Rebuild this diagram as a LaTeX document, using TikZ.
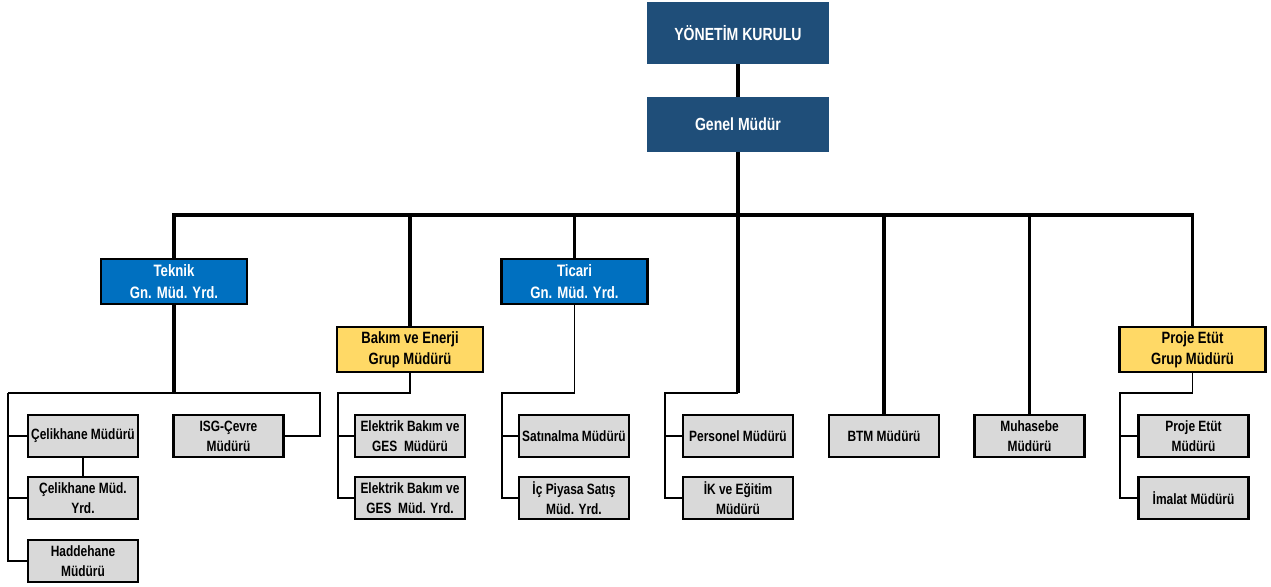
\documentclass[tikz,border=0pt]{standalone}
\usepackage{fontspec}
\setmainfont[FakeStretch=0.8]{Liberation Sans}
\usetikzlibrary{positioning,calc}
\definecolor{Navy}{RGB}{31,78,121}
\definecolor{MidBlue}{RGB}{0,112,192}
\definecolor{Gold}{RGB}{255,217,102}
\definecolor{Grey}{RGB}{217,217,217}

\begin{document}
\begin{tikzpicture}[x=0.02cm,y=0.02cm,
  topbox/.style={fill=Navy,text=white,minimum width=3.64cm,align=center,font=\fontsize{10}{12}\selectfont\bfseries},
  gmybox/.style={draw,line width=1.2pt,fill=MidBlue,text=white,minimum width=2.92cm,minimum height=0.9cm,inner sep=1pt,align=center,font=\fontsize{9.4}{12.4}\selectfont\bfseries},
  grpbox/.style={draw,line width=1.2pt,fill=Gold,minimum width=2.92cm,minimum height=0.9cm,inner sep=1pt,align=center,font=\fontsize{9.3}{12}\selectfont\bfseries},
  unitbox/.style={draw,line width=1.2pt,fill=Grey,minimum width=2.2cm,minimum height=0.84cm,inner sep=1pt,align=center,font=\fontsize{8.5}{11.3}\selectfont\bfseries},
  heavy/.style={line width=2pt},
  light/.style={line width=0.6pt}]
\useasboundingbox (0,0) rectangle (1271,-587);
\node[topbox,minimum height=1.24cm] (yk) at (738,-33) {YÖNETİM KURULU};
\node[topbox,minimum height=1.1cm] (gm) at (738,-124.5) {Genel Müdür};
\node[gmybox] (teknik) at (174,-281.5) {Teknik\\Gn. Müd. Yrd.};
\node[gmybox] (ticari) at (574.5,-281.5) {Ticari\\Gn. Müd. Yrd.};
\node[grpbox] (bakim) at (410,-349.5) {Bakım ve Enerji\\Grup Müdürü};
\node[grpbox] (proje) at (1192.5,-349.5) {Proje Etüt\\Grup Müdürü};
\node[unitbox] (celik) at (83,-436) {Çelikhane Müdürü};
\node[unitbox] (celikyrd) at (83,-498) {Çelikhane Müd.\\Yrd.};
\node[unitbox] (hadde) at (83,-561) {Haddehane\\Müdürü};
\node[unitbox] (isg) at (228.5,-436) {ISG-Çevre\\Müdürü};
\node[unitbox] (elk) at (410,-436) {Elektrik Bakım ve\\GES~~Müdürü};
\node[unitbox] (elkyrd) at (410,-498) {Elektrik Bakım ve\\GES~~Müd. Yrd.};
\node[unitbox] (satin) at (574,-436) {Satınalma Müdürü};
\node[unitbox] (icp) at (574,-498) {İç Piyasa Satış\\Müd. Yrd.};
\node[unitbox] (pers) at (738,-436) {Personel Müdürü};
\node[unitbox] (ik) at (738,-498) {İK ve Eğitim\\Müdürü};
\node[unitbox] (btm) at (884,-436) {BTM Müdürü};
\node[unitbox] (muh) at (1029.5,-436) {Muhasebe\\Müdürü};
\node[unitbox] (pem) at (1193.5,-436) {Proje Etüt\\Müdürü};
\node[unitbox] (imalat) at (1193.5,-498) {İmalat Müdürü};
\coordinate (bus) at (738,-215);
\coordinate (tl) at (8,-393);
\coordinate (tr) at (320,-393);
\coordinate (bk) at (338,-393);
\coordinate (tc) at (502,-393);
\coordinate (pk) at (665,-393);
\coordinate (pj) at (1120,-393);
\draw[heavy] (yk.south) -- (gm.north);
\draw[heavy] (gm.south) -- (gm.south |- pk);
\draw[heavy] (teknik.north) |- (bus) -| (proje.north);
\draw[heavy] (bakim.north |- bus) -- (bakim.north);
\draw[heavy] (ticari.north |- bus) -- (ticari.north);
\draw[heavy] (btm.north |- bus) -- (btm.north);
\draw[heavy] (muh.north |- bus) -- (muh.north);
\draw[heavy] (teknik.south) -- (teknik.south |- tl);
\draw[light] (tl) -- (tr) |- (isg.east);
\draw[light] (tl) |- (hadde.west);
\draw[light] (tl |- celik.west) -- (celik.west);
\draw[light] (tl |- celikyrd.west) -- (celikyrd.west);
\draw[light] (celik.south) -- (celikyrd.north);
\draw[light] (bakim.south) |- (bk) |- (elkyrd.west);
\draw[light] (bk |- elk.west) -- (elk.west);
\draw[light] (ticari.south) |- (tc) |- (icp.west);
\draw[light] (tc |- satin.west) -- (satin.west);
\draw[light] (gm.south |- pk) -- (pk) |- (ik.west);
\draw[light] (pk |- pers.west) -- (pers.west);
\draw[light] (proje.south) |- (pj) |- (imalat.west);
\draw[light] (pj |- pem.west) -- (pem.west);
\end{tikzpicture}
\end{document}
